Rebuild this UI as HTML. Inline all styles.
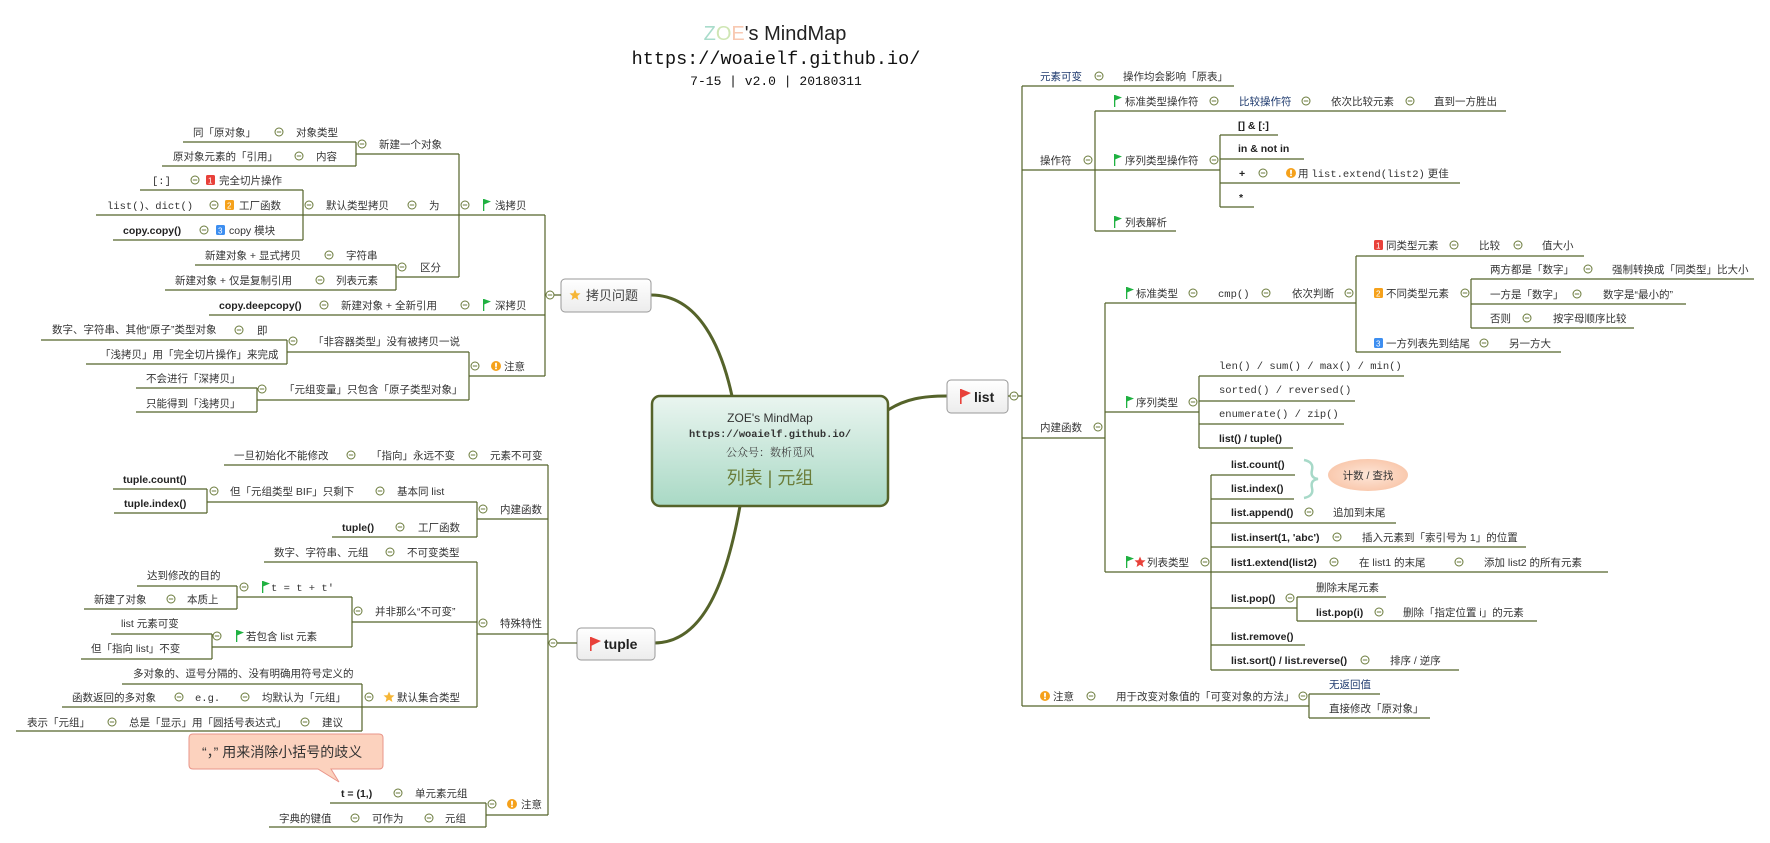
<!DOCTYPE html>
<html><head><meta charset="utf-8"><style>
html,body{margin:0;padding:0;background:#fff;}
svg{display:block}
text{font-family:"Liberation Sans","Noto Sans CJK SC",sans-serif;font-size:10.5px;fill:#333}
.b{font-weight:bold;fill:#222}
.m{font-family:"Liberation Mono","Noto Sans CJK SC",monospace;font-size:10.5px}
.l{stroke:#55632a;stroke-width:1.2;fill:none}
</style></head><body>
<svg width="1770" height="843" viewBox="0 0 1770 843" xmlns="http://www.w3.org/2000/svg">
<defs>
<g id="c"><circle r="4" fill="#fff" stroke="#6b7b3c" stroke-width="1"/><line x1="-2.2" y1="0" x2="2.2" y2="0" stroke="#6b7b3c" stroke-width="1"/></g>
<g id="fg"><rect x="0" y="-6" width="1.3" height="12" fill="#1fb141"/><polygon points="1,-6 8,-3.5 1,-0.5" fill="#1fb141"/></g>
<g id="st"><polygon points="0,-5.5 1.6,-1.8 5.5,-1.6 2.5,1 3.4,5 0,2.8 -3.4,5 -2.5,1 -5.5,-1.6 -1.6,-1.8" fill="#f6b636"/></g>
<g id="rs"><polygon points="0,-5.5 1.6,-1.8 5.5,-1.6 2.5,1 3.4,5 0,2.8 -3.4,5 -2.5,1 -5.5,-1.6 -1.6,-1.8" fill="#e8413a"/></g>
<g id="ex"><circle r="5" fill="#f5a11b"/><rect x="-0.9" y="-3.2" width="1.8" height="4" fill="#fff"/><rect x="-0.9" y="1.6" width="1.8" height="1.6" fill="#fff"/></g>
<linearGradient id="cg" x1="0" y1="0" x2="0" y2="1"><stop offset="0" stop-color="#eaf5f0"/><stop offset="1" stop-color="#a9d9c5"/></linearGradient>
<linearGradient id="ng" x1="0" y1="0" x2="0" y2="1"><stop offset="0" stop-color="#fff"/><stop offset="1" stop-color="#ececec"/></linearGradient>
<radialGradient id="eg"><stop offset="0" stop-color="#fde6d8"/><stop offset="1" stop-color="#f9c9ae"/></radialGradient>
</defs>

<!-- title -->
<text x="775" y="40" text-anchor="middle" style="font-size:20px;fill:#222"><tspan style="fill:#a9dccb">Z</tspan><tspan style="fill:#cfe6b4">O</tspan><tspan style="fill:#f8c9b2">E</tspan>'s MindMap</text>
<text x="776" y="64" text-anchor="middle" class="m" style="font-size:18.5px;fill:#111">https://woaielf.github.io/</text>
<text x="776" y="85" text-anchor="middle" class="m" style="font-size:13px;fill:#111">7-15 | v2.0 | 20180311</text>

<!-- main curves -->
<path d="M651,295 C700,295 722,350 732,396" stroke="#55632a" stroke-width="3" fill="none"/>
<path d="M885,412 C905,398 925,396 947,396" stroke="#55632a" stroke-width="3" fill="none"/>
<path d="M740,506 C725,590 700,643 654,643" stroke="#55632a" stroke-width="3" fill="none"/>

<!-- central -->
<rect x="652" y="396" width="236" height="110" rx="8" fill="url(#cg)" stroke="#55632a" stroke-width="2.5"/>
<text x="770" y="422" text-anchor="middle" style="font-size:12px;fill:#333">ZOE's MindMap</text>
<text x="770" y="437" text-anchor="middle" class="m" style="font-size:10.4px;font-weight:bold;fill:#333">https://woaielf.github.io/</text>
<text x="770" y="456" text-anchor="middle" style="font-size:11px;fill:#444;font-family:'Noto Serif CJK SC',serif">公众号：数析觅风</text>
<text x="770" y="484" text-anchor="middle" style="font-size:18px;fill:#6b7d3a">列表 | 元组</text>

<!-- copy node -->
<rect x="561" y="279" width="90" height="33" rx="4" fill="url(#ng)" stroke="#999"/>
<use href="#st" x="575" y="295"/>
<text x="586" y="300" style="font-size:13px;fill:#444">拷贝问题</text>
<!-- list node -->
<rect x="947" y="380" width="61" height="33" rx="4" fill="url(#ng)" stroke="#999"/>
<rect x="960" y="389" width="1.6" height="15" fill="#e8413a"/><polygon points="961,389 971,393 961,398" fill="#e8413a"/>
<text x="974" y="402" class="b" style="font-size:14px">list</text>
<!-- tuple node -->
<rect x="577" y="628" width="78" height="32" rx="4" fill="url(#ng)" stroke="#999"/>
<rect x="590" y="637" width="1.6" height="14" fill="#e8413a"/><polygon points="591,637 601,641 591,646" fill="#e8413a"/>
<text x="604" y="649" class="b" style="font-size:14px">tuple</text>

<!-- ===== LEFT TOP lines ===== -->
<g class="l">
<path d="M183,142H356M162,166H356M356,142V166M356,154H459"/>
<path d="M140,190H303M96,215H545M113,240H303M303,190V240"/>
<path d="M195,265H396M165,290H396M396,265V290M396,277H459M459,154V277"/>
<path d="M209,315H545"/>
<path d="M41,340H287M86,364H287M287,340V364M287,352H469"/>
<path d="M136,388H257M136,412H257M257,388V412M257,400H469M469,352V400M469,376H545"/>
<path d="M545,215V376M545,295H561"/>
</g>
<use href="#c" x="279" y="132"/><use href="#c" x="299" y="156"/><use href="#c" x="362" y="144"/>
<use href="#c" x="195" y="180"/><use href="#c" x="214" y="205"/><use href="#c" x="204" y="230"/>
<use href="#c" x="309" y="205"/><use href="#c" x="412" y="205"/><use href="#c" x="465" y="205"/>
<use href="#c" x="329" y="255"/><use href="#c" x="320" y="280"/><use href="#c" x="402" y="267"/>
<use href="#c" x="324" y="305"/><use href="#c" x="465" y="305"/>
<use href="#c" x="239" y="330"/><use href="#c" x="293" y="341"/><use href="#c" x="475" y="366"/><use href="#c" x="262" y="389"/>
<use href="#c" x="550" y="295"/>

<text x="193" y="136">同「原对象」</text><text x="296" y="136">对象类型</text>
<text x="173" y="160">原对象元素的「引用」</text><text x="316" y="160">内容</text>
<text x="379" y="148">新建一个对象</text>
<text x="152" y="184" class="m">[:]</text>
<rect x="206" y="175" width="9" height="10" rx="1.5" fill="#e8413a"/><text x="208" y="183.5" style="font-size:8px;fill:#fff">1</text>
<text x="219" y="184">完全切片操作</text>
<text x="107" y="209" class="m">list()、dict()</text>
<rect x="225" y="200" width="9" height="10" rx="1.5" fill="#f5a11b"/><text x="227" y="208.5" style="font-size:8px;fill:#fff">2</text>
<text x="239" y="209">工厂函数</text>
<text x="123" y="234" class="b">copy.copy()</text>
<rect x="216" y="225" width="9" height="10" rx="1.5" fill="#3d8ef0"/><text x="218" y="233.5" style="font-size:8px;fill:#fff">3</text>
<text x="229" y="234">copy 模块</text>
<text x="326" y="209">默认类型拷贝</text><text x="429" y="209">为</text>
<use href="#fg" x="483" y="205"/><text x="495" y="209">浅拷贝</text>
<text x="205" y="259">新建对象 + 显式拷贝</text><text x="346" y="259">字符串</text>
<text x="175" y="284">新建对象 + 仅是复制引用</text><text x="336" y="284">列表元素</text>
<text x="420" y="271">区分</text>
<text x="219" y="309" class="b">copy.deepcopy()</text><text x="341" y="309">新建对象 + 全新引用</text>
<use href="#fg" x="483" y="305"/><text x="495" y="309">深拷贝</text>
<text x="52" y="333">数字、字符串、其他“原子”类型对象</text><text x="257" y="334">即</text>
<text x="100" y="358">「浅拷贝」用「完全切片操作」来完成</text>
<text x="313" y="345">「非容器类型」没有被拷贝一说</text>
<use href="#ex" x="496" y="366"/><text x="504" y="370">注意</text>
<text x="146" y="382">不会进行「深拷贝」</text>
<text x="146" y="407">只能得到「浅拷贝」</text>
<text x="284" y="393">「元组变量」只包含「原子类型对象」</text>

<!-- ===== LEFT BOTTOM (tuple) ===== -->
<g class="l">
<path d="M224,465H548"/>
<path d="M113,489H207M114,513H207M207,489V513M207,502H477M332,537H477M477,502V537M477,519H548"/>
<path d="M264,562H477"/>
<path d="M137,586H237M84,609H237M237,586V609M237,597H352"/>
<path d="M111,634H212M81,659H212M212,634V659M212,647H352M352,597V647M352,622H477"/>
<path d="M122,684H362M62,707H477M16,731H362M362,684V731"/>
<path d="M477,562V707M477,634H548"/>
<path d="M330,803H486M269,827H486M486,803V827M486,815H548"/>
<path d="M548,465V815M548,643H577"/>
</g>
<use href="#c" x="351" y="455"/><use href="#c" x="473" y="455"/>
<use href="#c" x="214" y="491"/><use href="#c" x="380" y="491"/><use href="#c" x="483" y="509"/><use href="#c" x="400" y="527"/>
<use href="#c" x="390" y="552"/><use href="#c" x="483" y="623"/>
<use href="#c" x="171" y="599"/><use href="#c" x="244" y="587"/><use href="#c" x="217" y="636"/><use href="#c" x="358" y="611"/>
<use href="#c" x="179" y="697"/><use href="#c" x="245" y="697"/><use href="#c" x="369" y="697"/>
<use href="#c" x="112" y="722"/><use href="#c" x="305" y="722"/>
<use href="#c" x="398" y="793"/><use href="#c" x="355" y="818"/><use href="#c" x="429" y="818"/><use href="#c" x="492" y="804"/>
<use href="#c" x="553" y="643"/>

<text x="234" y="459">一旦初始化不能修改</text><text x="371" y="459">「指向」永远不变</text><text x="490" y="459">元素不可变</text>
<text x="123" y="483" class="b">tuple.count()</text><text x="124" y="507" class="b">tuple.index()</text>
<text x="230" y="495">但「元组类型 BIF」只剩下</text><text x="397" y="495">基本同 list</text>
<text x="500" y="513">内建函数</text>
<text x="342" y="531" class="b">tuple()</text><text x="418" y="531">工厂函数</text>
<text x="274" y="556">数字、字符串、元组</text><text x="407" y="556">不可变类型</text>
<text x="500" y="627">特殊特性</text>
<text x="147" y="579">达到修改的目的</text>
<text x="94" y="603">新建了对象</text><text x="187" y="603">本质上</text>
<use href="#fg" x="262" y="587"/><text x="271" y="591" class="m">t = t + t'</text>
<text x="121" y="627">list 元素可变</text>
<text x="91" y="652">但「指向 list」不变</text>
<use href="#fg" x="236" y="636"/><text x="246" y="640">若包含 list 元素</text>
<text x="375" y="615">并非那么“不可变”</text>
<text x="133" y="677">多对象的、逗号分隔的、没有明确用符号定义的</text>
<text x="72" y="701">函数返回的多对象</text><text x="195" y="701" class="m">e.g.</text><text x="262" y="701">均默认为「元组」</text>
<use href="#st" x="389" y="697"/><text x="397" y="701">默认集合类型</text>
<text x="27" y="726">表示「元组」</text><text x="129" y="726">总是「显示」用「圆括号表达式」</text><text x="322" y="726">建议</text>
<!-- callout -->
<path d="M193,734H379Q383,734 383,738V765Q383,769 379,769H331L339,782L318,769H193Q189,769 189,765V738Q189,734 193,734Z" fill="#fcd2be" stroke="#e9958a" stroke-width="1"/>
<text x="202" y="757" style="font-size:14px;fill:#333">“，” 用来消除小括号的歧义</text>
<text x="341" y="797" class="b">t = (1,)</text><text x="415" y="797">单元素元组</text>
<text x="279" y="822">字典的键值</text><text x="372" y="822">可作为</text><text x="445" y="822">元组</text>
<use href="#ex" x="512" y="804"/><text x="521" y="808">注意</text>

<!-- ===== RIGHT (list) ===== -->
<g class="l">
<path d="M1008,396H1022M1022,86V706"/>
<path d="M1022,86H1234"/>
<path d="M1022,170H1095M1095,111V231M1095,111H1506M1095,170H1220M1095,231H1176"/>
<path d="M1220,135V207M1220,135H1278M1220,159H1304M1220,183H1460M1220,207H1254"/>
<path d="M1022,438H1105M1105,303V572"/>
<path d="M1105,303H1356M1356,256V352M1356,256H1584M1356,352H1561M1471,279V328M1471,279H1754M1471,304H1686M1471,328H1634"/>
<path d="M1105,412H1199M1199,376V448M1199,376H1404M1199,401H1355M1199,424H1344M1199,448H1293"/>
<path d="M1105,572H1608M1211,475V670M1211,475H1295M1211,499H1294M1211,523H1396M1211,547H1526M1211,608H1297M1297,597V621M1297,597H1386M1297,621H1537M1211,645H1305M1211,670H1459"/>
<path d="M1022,706H1309M1309,694V718M1309,694H1380M1309,718H1430"/>
</g>
<use href="#c" x="1014" y="396"/>
<use href="#c" x="1099" y="76"/><use href="#c" x="1088" y="160"/>
<use href="#c" x="1214" y="101"/><use href="#c" x="1306" y="101"/><use href="#c" x="1410" y="101"/>
<use href="#c" x="1214" y="160"/><use href="#c" x="1263" y="173"/>
<use href="#c" x="1193" y="293"/><use href="#c" x="1266" y="293"/><use href="#c" x="1349" y="293"/>
<use href="#c" x="1454" y="245"/><use href="#c" x="1518" y="245"/><use href="#c" x="1465" y="293"/>
<use href="#c" x="1588" y="269"/><use href="#c" x="1577" y="294"/><use href="#c" x="1527" y="318"/><use href="#c" x="1484" y="343"/>
<use href="#c" x="1193" y="402"/><use href="#c" x="1098" y="427"/>
<use href="#c" x="1205" y="562"/><use href="#c" x="1309" y="512"/><use href="#c" x="1337" y="537"/><use href="#c" x="1334" y="562"/><use href="#c" x="1459" y="562"/>
<use href="#c" x="1290" y="598"/><use href="#c" x="1379" y="612"/><use href="#c" x="1365" y="660"/>
<use href="#c" x="1091" y="696"/><use href="#c" x="1303" y="696"/>

<text x="1040" y="80" style="fill:#1e3a6e">元素可变</text><text x="1123" y="80">操作均会影响「原表」</text>
<text x="1040" y="164">操作符</text>
<use href="#fg" x="1114" y="101"/><text x="1125" y="105">标准类型操作符</text>
<text x="1239" y="105" style="fill:#1e3a6e">比较操作符</text><text x="1331" y="105">依次比较元素</text><text x="1434" y="105">直到一方胜出</text>
<use href="#fg" x="1114" y="160"/><text x="1125" y="164">序列类型操作符</text>
<text x="1238" y="129" class="b">[] &amp; [:]</text>
<text x="1238" y="152" class="b">in &amp; not in</text>
<text x="1239" y="177" class="b">+</text><use href="#ex" x="1291" y="173"/><text x="1298" y="177">用 <tspan class="m">list.extend(list2)</tspan> 更佳</text>
<text x="1239" y="201" class="b">*</text>
<use href="#fg" x="1114" y="222"/><text x="1125" y="226">列表解析</text>

<use href="#fg" x="1126" y="293"/><text x="1136" y="297">标准类型</text>
<text x="1218" y="297" class="m">cmp()</text><text x="1292" y="297">依次判断</text>
<rect x="1374" y="240" width="9" height="10" rx="1.5" fill="#e8413a"/><text x="1376" y="248.5" style="font-size:8px;fill:#fff">1</text>
<text x="1386" y="249">同类型元素</text><text x="1479" y="249">比较</text><text x="1542" y="249">值大小</text>
<rect x="1374" y="288" width="9" height="10" rx="1.5" fill="#f5a11b"/><text x="1376" y="296.5" style="font-size:8px;fill:#fff">2</text>
<text x="1386" y="297">不同类型元素</text>
<text x="1490" y="273">两方都是「数字」</text><text x="1612" y="273">强制转换成「同类型」比大小</text>
<text x="1490" y="298">一方是「数字」</text><text x="1603" y="298">数字是“最小的”</text>
<text x="1490" y="322">否则</text><text x="1553" y="322">按字母顺序比较</text>
<rect x="1374" y="338" width="9" height="10" rx="1.5" fill="#3d8ef0"/><text x="1376" y="346.5" style="font-size:8px;fill:#fff">3</text>
<text x="1386" y="347">一方列表先到结尾</text><text x="1509" y="347">另一方大</text>

<use href="#fg" x="1126" y="402"/><text x="1136" y="406">序列类型</text>
<text x="1219" y="369" class="m">len() / sum() / max() / min()</text>
<text x="1219" y="393" class="m">sorted() / reversed()</text>
<text x="1219" y="417" class="m">enumerate() / zip()</text>
<text x="1219" y="442" class="b">list() / tuple()</text>
<text x="1040" y="431">内建函数</text>

<use href="#fg" x="1126" y="562"/><use href="#rs" x="1140" y="562"/><text x="1147" y="566">列表类型</text>
<text x="1231" y="468" class="b">list.count()</text>
<text x="1231" y="492" class="b">list.index()</text>
<path d="M1304,460 Q1314,462 1312,470 Q1310,478 1318,479 Q1310,480 1312,488 Q1314,496 1304,498" stroke="#a7d9c8" stroke-width="2.5" fill="none"/>
<ellipse cx="1368" cy="475" rx="40" ry="16" fill="url(#eg)"/>
<text x="1368" y="479" text-anchor="middle">计数 / 查找</text>
<text x="1231" y="516" class="b">list.append()</text><text x="1333" y="516">追加到末尾</text>
<text x="1231" y="541" class="b">list.insert(1, 'abc')</text><text x="1362" y="541">插入元素到「索引号为 1」的位置</text>
<text x="1231" y="566" class="b">list1.extend(list2)</text><text x="1359" y="566">在 list1 的末尾</text><text x="1484" y="566">添加 list2 的所有元素</text>
<text x="1231" y="602" class="b">list.pop()</text>
<text x="1316" y="591">删除末尾元素</text>
<text x="1316" y="616" class="b">list.pop(i)</text><text x="1403" y="616">删除「指定位置 i」的元素</text>
<text x="1231" y="640" class="b">list.remove()</text>
<text x="1231" y="664" class="b">list.sort() / list.reverse()</text><text x="1390" y="664">排序 / 逆序</text>
<use href="#ex" x="1045" y="696"/><text x="1053" y="700">注意</text>
<text x="1116" y="700">用于改变对象值的「可变对象的方法」</text>
<text x="1329" y="688" style="fill:#1e3a6e">无返回值</text>
<text x="1329" y="712">直接修改「原对象」</text>
</svg>
</body></html>
